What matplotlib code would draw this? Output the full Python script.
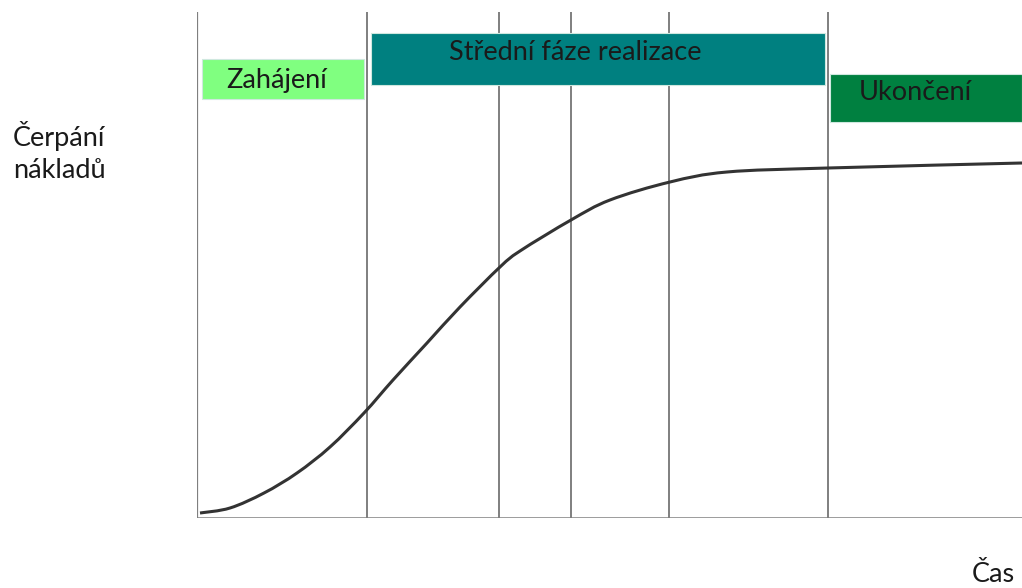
import numpy as np
import matplotlib
matplotlib.use("Agg")
import matplotlib.pyplot as plt
from matplotlib.path import Path
from matplotlib.patches import PathPatch, Rectangle

plt.rcParams['font.family'] = ['Lato', 'DejaVu Sans']

# Time axis (arbitrary units) and cumulative cost drawdown
time = [3, 33, 67, 100, 133, 167, 196, 230, 263, 303, 323, 374, 413, 473, 530, 631, 825]
cost = [5, 10, 25, 45, 71, 105, 138, 175, 211, 251, 267, 298, 318, 336, 346, 350, 355]

# Phase boundaries (vertical guides)
boundaries = [170, 302, 374, 472, 631]

# Phase labels and boxes
phase_names = ["Zahájení", "Střední fáze realizace", "Ukončení"]
phase_start = [5, 174, 633]
phase_end = [167, 628, 825]
phase_bottom = [419, 433, 396]
phase_top = [459, 485, 444]
phase_colors = ["#80ff80", "#008080", "#008040"]
label_x = [80, 378, 718]
label_y = [438, 466, 426]

x_max, y_max = 825, 506

fig = plt.figure(figsize=(10.22, 5.88), dpi=100)
ax = fig.add_axes([197 / 1022, 70 / 588, 825 / 1022, 506 / 588])
ax.set_xlim(0, x_max)
ax.set_ylim(0, y_max)
ax.set_axis_off()

grey = "#7f7f7f"
ax.plot([0, 0], [0, y_max], color=grey, lw=1.6, solid_capstyle="butt")
ax.plot([0, x_max], [0, 0], color=grey, lw=1.8, solid_capstyle="butt")
for b in boundaries:
    ax.plot([b, b], [0, y_max], color=grey, lw=1.4, solid_capstyle="butt")

# Smooth curve through the points (Catmull-Rom as cubic Bezier segments)
pts = np.column_stack([time, cost]).astype(float)
verts = [tuple(pts[0])]
codes = [Path.MOVETO]
n = len(pts)
for i in range(n - 1):
    p0 = pts[i - 1] if i > 0 else pts[i]
    p1 = pts[i]
    p2 = pts[i + 1]
    p3 = pts[i + 2] if i + 2 < n else pts[i + 1]
    c1 = p1 + (p2 - p0) / 6.0
    c2 = p2 - (p3 - p1) / 6.0
    verts += [tuple(c1), tuple(c2), tuple(p2)]
    codes += [Path.CURVE4] * 3
ax.add_patch(PathPatch(Path(verts, codes), facecolor="none",
                       edgecolor="#333333", lw=2.2, zorder=3))

for name, s, e, b, t, c, tx, ty in zip(phase_names, phase_start, phase_end,
                                       phase_bottom, phase_top, phase_colors,
                                       label_x, label_y):
    ax.add_patch(Rectangle((s, b), e - s, t - b, facecolor=c,
                           edgecolor="#cfe8df", lw=0.8, zorder=4))
    ax.text(tx, ty, name, ha="center", va="center", fontsize=19.5,
            color="#1a1a1a", zorder=5)

fig.text(13 / 1022, 1 - 136 / 588, "Čerpání", ha="left", va="center",
         fontsize=19.5, color="#1a1a1a")
fig.text(13 / 1022, 1 - 170 / 588, "nákladů", ha="left", va="center",
         fontsize=19.5, color="#1a1a1a")
fig.text(993 / 1022, 1 - 574 / 588, "Čas", ha="center", va="center",
         fontsize=19.5, color="#1a1a1a")

fig.savefig("out.png", dpi=100, facecolor="white")
